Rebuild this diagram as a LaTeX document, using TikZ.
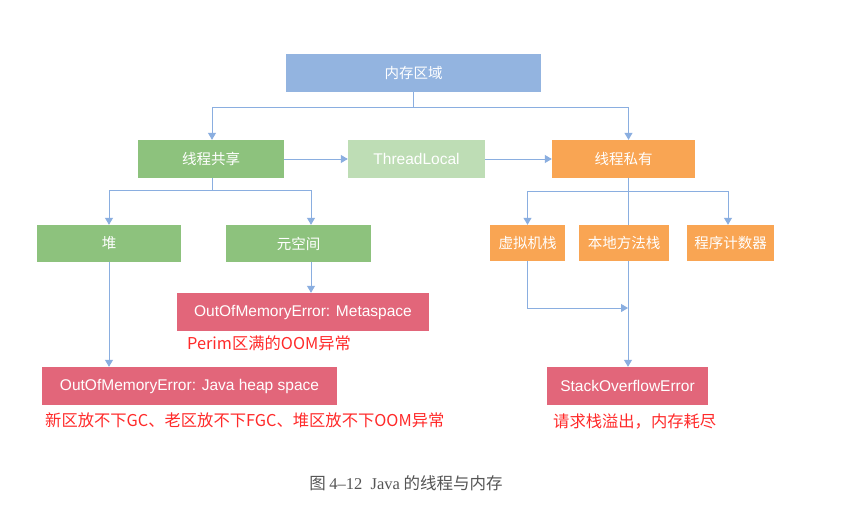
\documentclass[tikz,border=0pt]{standalone}
\usepackage{fontspec}
\setmainfont{Liberation Sans}
\newfontfamily\cjk{Noto Sans CJK SC}
\newfontfamily\capserif{Liberation Serif}
\usetikzlibrary{arrows.meta}
\definecolor{cblue}{HTML}{93B4E0}
\definecolor{cgreen}{HTML}{8DC27D}
\definecolor{clight}{HTML}{BEDDB5}
\definecolor{corange}{HTML}{F9A553}
\definecolor{cred}{HTML}{E2667A}
\definecolor{carrow}{HTML}{8AAEE0}
\definecolor{cnote}{HTML}{FF2A2A}
\definecolor{ccap}{HTML}{555555}
\tikzset{
  box/.style={rectangle, fill=#1, draw=none, text=white, inner sep=0pt, minimum height=38pt, anchor=center},
  zh/.style={font=\cjk\fontsize{14.5}{16}\selectfont},
  en/.style={font=\fontsize{15.5}{18}\selectfont},
  link/.style={draw=carrow, line width=1pt},
  arr/.style={link, -{Triangle[width=8pt,length=7pt]}},
  note/.style={text=cnote, font=\cjk\fontsize{16.3}{18}\selectfont, anchor=west, inner sep=0pt},
}
\begin{document}
\begin{tikzpicture}[x=1pt,y=-1pt]
\useasboundingbox[fill=white] (0,0) rectangle (845,524);
% level 0
\node[box=cblue, zh, minimum width=255pt] (mem) at (413.5,73) {内存区域};
% level 1
\node[box=cgreen, zh, minimum width=146pt] (share) at (211,159) {线程共享};
\node[box=clight, en, minimum width=137pt] (tl) at (416.5,159) {ThreadLocal};
\node[box=corange, zh, minimum width=143pt] (priv) at (623.5,159) {线程私有};
% level 2
\node[box=cgreen, zh, minimum width=144pt, minimum height=37pt] (heap) at (109,243.5) {堆};
\node[box=cgreen, zh, minimum width=145pt, minimum height=37pt] (meta) at (298.5,243.5) {元空间};
\node[box=corange, zh, minimum width=75pt, minimum height=36pt] (vm) at (527.5,243) {虚拟机栈};
\node[box=corange, zh, minimum width=90pt, minimum height=36pt] (native) at (624,243) {本地方法栈};
\node[box=corange, zh, minimum width=87pt, minimum height=36pt] (pc) at (730.5,243) {程序计数器};
% level 3
\node[box=cred, en, minimum width=252pt] (moom) at (303,312) {OutOfMemoryError: Metaspace};
\node[box=cred, en, minimum width=295pt] (hoom) at (189.5,386) {OutOfMemoryError: Java heap space};
\node[box=cred, en, minimum width=161pt] (soe) at (627.5,386) {StackOverflowError};
% notes
\node[note] (n1) at (187,343) {Perim区满的OOM异常};
\node[note] (n2) at (45,420) {新区放不下GC、老区放不下FGC、堆区放不下OOM异常};
\node[note] (n3) at (553,422) {请求栈溢出，内存耗尽};
% caption
\node[text=ccap, inner sep=0pt] (cap) at (406,483) {\cjk\fontsize{16.5}{18}\selectfont 图\ {\capserif 4–12\ \ Java} 的线程与内存};
% connectors
\coordinate (j) at (628,308);
\draw[arr] (mem.south) -- ++(0,15) -| ([xshift=1pt]share.north);
\draw[arr] (mem.south) -- ++(0,15) -| ([xshift=5pt]priv.north);
\draw[arr] (share.east) -- (tl.west);
\draw[arr] (tl.east) -- (priv.west);
\draw[arr] ([xshift=1pt]share.south) -- ++(0,12) -| (heap.north);
\draw[arr] ([xshift=1pt]share.south) -- ++(0,12) -| ([xshift=12.5pt]meta.north);
\draw[arr] ([xshift=4.5pt]priv.south) -- ++(0,13) -| (vm.north);
\draw[arr] ([xshift=4.5pt]priv.south) -- ++(0,13) -| ([xshift=-2.5pt]pc.north);
\draw[link] ([xshift=4.5pt]priv.south) -- ([xshift=4pt]native.north);
\draw[arr] ([xshift=4pt]native.south) -- ([xshift=0.5pt]soe.north);
\draw[arr] (vm.south) |- (j);
\draw[arr] (heap.south) -- (heap.south |- hoom.north);
\draw[arr] ([xshift=12.5pt]meta.south) -- ([xshift=12.5pt]meta.south |- moom.north);
\end{tikzpicture}
\end{document}
